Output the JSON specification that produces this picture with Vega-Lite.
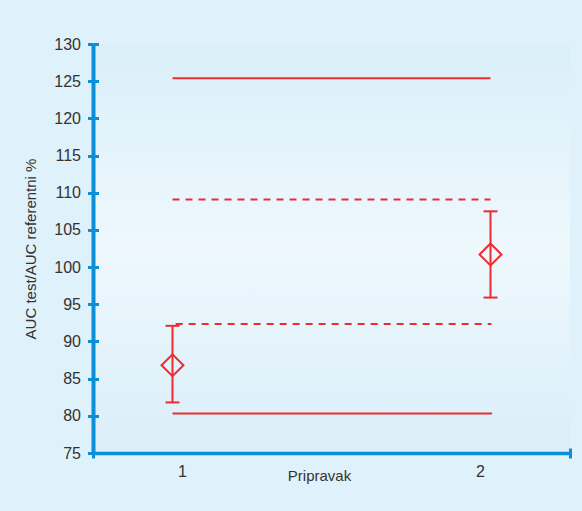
{
  "$schema": "https://vega.github.io/schema/vega-lite/v6.json",
  "width": 477,
  "height": 409,
  "autosize": "none",
  "padding": {"left": 93, "top": 44, "right": 12, "bottom": 58},
  "background": "#dff1fa",
  "config": {
    "font": "Liberation Sans",
    "axis": {"labelFontSize": 15},
    "axisBottom": {"labelFontSize": 15},
    "view": {
      "stroke": null,
      "fill": {"gradient": "linear", "x1": 0, "y1": 0, "x2": 0, "y2": 1,
        "stops": [{"offset": 0, "color": "#daeff9"}, {"offset": 0.5, "color": "#eef8fd"}, {"offset": 1, "color": "#daeef9"}]}
    }
  },
  "datasets": {
    "lines": [
      {"x1": 1.0, "x2": 2.0, "y": 125.4, "kind": "solid"},
      {"x1": 1.0, "x2": 2.005, "y": 80.3, "kind": "solid"},
      {"x1": 1.0, "x2": 2.0, "y": 109.1, "kind": "dashed"},
      {"x1": 1.01, "x2": 2.003, "y": 92.35, "kind": "dashed"}
    ],
    "points": [
      {"x": 1, "y": 86.8, "lo": 81.8, "hi": 92.1},
      {"x": 2, "y": 101.7, "lo": 95.9, "hi": 107.5}
    ]
  },
  "resolve": {"axis": {"x": "independent", "y": "independent"}},
  "layer": [
    {
      "data": {"name": "lines"},
      "mark": {"type": "rule", "strokeWidth": 2, "color": "#ee2b30"},
      "encoding": {
        "x": {"field": "x1", "type": "quantitative", "scale": {"domain": [0.75, 2.25]},
          "axis": {"title": "Pripravak", "values": [1.03, 1.967], "format": ".0f", "grid": false, "ticks": false,
            "domainColor": "#0b8fd8", "domainWidth": 3.5,
            "labelFontSize": 16, "labelColor": "#333333", "labelPadding": 10, "labelFlush": false, "labelOverlap": false,
            "titleFontSize": 15, "titleFontWeight": "normal", "titleColor": "#333333",
            "titleX": 226, "titleY": 27, "titleBaseline": "alphabetic", "titleAlign": "center"}},
        "x2": {"field": "x2"},
        "y": {"field": "y", "type": "quantitative", "scale": {"domain": [75, 130]},
          "axis": {"title": "AUC test/AUC referentni %", "values": [75, 80, 85, 90, 95, 100, 105, 110, 115, 120, 125, 130], "grid": false,
            "domainColor": "#0b8fd8", "domainWidth": 4, "tickColor": "#0b8fd8", "tickWidth": 3, "tickSize": 5.5,
            "labelFontSize": 16, "labelColor": "#333333", "labelPadding": 7, "labelFlush": false,
            "titleFontSize": 15, "titleFontWeight": "normal", "titleColor": "#333333",
            "titleX": -58, "titleY": 204.5, "titleAngle": -90, "titleBaseline": "alphabetic", "titleAlign": "center"}},
        "strokeDash": {"field": "kind", "type": "nominal", "scale": {"domain": ["solid", "dashed"], "range": [[1, 0], [7, 6]]}, "legend": null}
      }
    },
    {
      "data": {"name": "points"},
      "mark": {"type": "rule", "strokeWidth": 2, "color": "#ee2b30"},
      "encoding": {
        "x": {"field": "x", "type": "quantitative", "scale": {"domain": [0.75, 2.25]},
          "axis": {"orient": "top", "offset": -414, "values": [0.75, 2.25], "labels": false, "domain": false, "grid": false, "title": null,
            "tickSize": 10, "tickWidth": 3, "tickColor": "#0b8fd8"}},
        "y": {"field": "lo", "type": "quantitative", "scale": {"domain": [75, 130]},
          "axis": {"orient": "right", "offset": -477, "values": [75, 80, 85, 90, 95, 100, 105, 110, 115, 120, 125, 130], "labels": false, "domain": false, "grid": false, "title": null,
            "tickSize": 5.5, "tickWidth": 3, "tickColor": "#0b8fd8"}},
        "y2": {"field": "hi"}
      }
    },
    {
      "data": {"name": "points"},
      "mark": {"type": "tick", "orient": "horizontal", "size": 14, "thickness": 2, "color": "#ee2b30", "opacity": 1},
      "encoding": {
        "x": {"field": "x", "type": "quantitative", "scale": {"domain": [0.75, 2.25]}, "axis": null},
        "y": {"field": "lo", "type": "quantitative", "scale": {"domain": [75, 130]}, "axis": null}
      }
    },
    {
      "data": {"name": "points"},
      "mark": {"type": "tick", "orient": "horizontal", "size": 14, "thickness": 2, "color": "#ee2b30", "opacity": 1},
      "encoding": {
        "x": {"field": "x", "type": "quantitative", "scale": {"domain": [0.75, 2.25]}, "axis": null},
        "y": {"field": "hi", "type": "quantitative", "scale": {"domain": [75, 130]}, "axis": null}
      }
    },
    {
      "data": {"name": "points"},
      "mark": {"type": "point", "shape": "diamond", "size": 480, "filled": false, "strokeWidth": 2, "color": "#ee2b30", "opacity": 1},
      "encoding": {
        "x": {"field": "x", "type": "quantitative", "scale": {"domain": [0.75, 2.25]}, "axis": null},
        "y": {"field": "y", "type": "quantitative", "scale": {"domain": [75, 130]}, "axis": null}
      }
    }
  ]
}
